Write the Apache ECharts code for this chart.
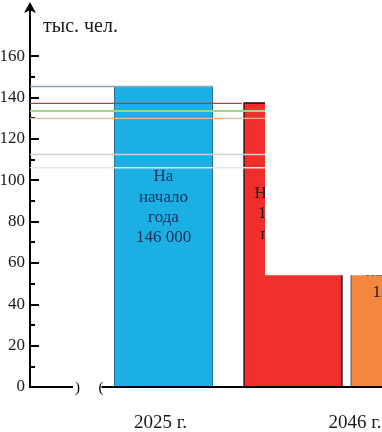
<!DOCTYPE html>
<html><head><meta charset="utf-8">
<script src="https://cdn.jsdelivr.net/npm/echarts@6/dist/echarts.min.js"></script>
<style>html,body{margin:0;padding:0;background:#fff}#c{width:382px;height:432px}</style>
</head><body><div id="c"></div>
<script>
// ---------------- data ----------------
const categories = ['2025 г.', '2046 г.'];
const yTickValues = [0, 20, 40, 60, 80, 100, 120, 140, 160];
const yMinorTickValues = [10, 30, 50, 70, 90, 110, 130, 150];
const unitLabel = 'тыс. чел.';
const startValue = [145.3];               // 2025, on the 1st of January
const scenarioValues = [137.3, 128.8];    // 2046 bars (red, orange)
const visibleLevel = [54];                // 2046 area is blank above this level
const guideValues = [145.3, 137.1, 133.5, 129.9, 112.4, 106.0];
const startLabel = ['На', 'начало', 'года', '146 000'];
const scenarioLabels = [
  ['Население', '1 вариант', 'прогноза'],
  ['Население', '2 вариант', 'прогноза', 'на 2046 г.', '129 000']
];

// ---------------- layout / style ----------------
const FONT = 'Liberation Serif';
const CW = 382;
const AXIS_X = 30;
const GRID = { left: 63.25, top: 8.5, bottom: 45, width: 389 };
const AXIS_OFFSET = GRID.left - AXIS_X;
const BAR_SPANS = [[-46, 52], [-111, -13], [-4, 94]];
const BAR_FILL = ['#1cafe3', '#ee2f2b', '#f2873d'];
const BAR_STROKE = ['#2e6f90', '#111111', '#5a5a5a'];
const BAR_STROKE_W = [1, 1.3, 1];
const RED_VISIBLE_W = 21;
const LABEL_DROP = 80.3;
const LINE_H = 20.3;
const LABEL_COLOR = ['#16315c', '#1a1a1a', '#1a1a1a'];
const GUIDE_COLORS = ['#8ea5b7', '#c8324b', '#a8d08c', '#f3b88b', '#cfcfcf', '#e6e6e6'];
const GUIDE_WIDTH = [1.6, 1.3, 2, 1.3, 1.3, 1.6];
const GUIDE_END = ['blueRight', 'redLeft', 'redRight', 'redRight', 'redRight', 'redRight'];

const barData = [[0, startValue[0]], [1, scenarioValues[0]], [1, scenarioValues[1]]];
const barLabels = [startLabel, scenarioLabels[0], scenarioLabels[1]];

const chart = echarts.init(document.getElementById('c'), null, { renderer: 'canvas' });

function renderBar(params, api) {
  const i = params.dataIndex;
  const cat = api.value(0), v = api.value(1);
  const top = api.coord([cat, v]);
  const base = api.coord([cat, 0]);
  const span = BAR_SPANS[i];
  const x0 = top[0] + span[0], x1 = top[0] + span[1];
  return {
    type: 'group',
    children: [
      { type: 'rect', shape: { x: x0, y: top[1], width: x1 - x0, height: base[1] - top[1] },
        style: { fill: BAR_FILL[i], stroke: BAR_STROKE[i], lineWidth: BAR_STROKE_W[i] } },
      { type: 'text', style: { text: barLabels[i].join('\n'), x: (x0 + x1) / 2, y: top[1] + LABEL_DROP,
        align: 'center', verticalAlign: 'top', lineHeight: LINE_H,
        fontFamily: FONT, fontSize: 17, fill: LABEL_COLOR[i] } }
    ]
  };
}

function renderGuide(params, api) {
  const i = params.dataIndex;
  const y = api.coord([0, api.value(1)])[1];
  const c0 = api.coord([0, 0])[0], c1 = api.coord([1, 0])[0];
  const ends = { blueRight: c0 + BAR_SPANS[0][1], redLeft: c1 + BAR_SPANS[1][0] - 2, redRight: c1 + BAR_SPANS[1][1] };
  const xs = params.coordSys.x - AXIS_OFFSET;
  return { type: 'line', shape: { x1: xs, y1: y, x2: ends[GUIDE_END[i]], y2: y },
    style: { stroke: GUIDE_COLORS[i], lineWidth: GUIDE_WIDTH[i] } };
}

function renderMask(params, api) {
  const p = api.coord([api.value(0), api.value(1)]);
  const x = p[0] + BAR_SPANS[1][0] + RED_VISIBLE_W;
  const cs = params.coordSys;
  return { type: 'rect', shape: { x: x, y: -10, width: cs.x + cs.width + 50 - x, height: p[1] + 10 },
    style: { fill: '#ffffff' } };
}

function renderBaseline(params, api) {
  const y = api.coord([0, 0])[1];
  const ax = params.coordSys.x - AXIS_OFFSET;
  const right = params.coordSys.x + params.coordSys.width;
  const st = { stroke: '#000', lineWidth: 2 };
  const ts = { fontFamily: FONT, fontSize: 15, fill: '#000', align: 'center', verticalAlign: 'middle' };
  return { type: 'group', children: [
    { type: 'line', shape: { x1: ax - 1, y1: y, x2: ax + 43, y2: y }, style: st },
    { type: 'text', style: Object.assign({ text: ')', x: ax + 47.5, y: y + 1.5 }, ts) },
    { type: 'text', style: Object.assign({ text: '(', x: ax + 71, y: y + 1.5 }, ts) },
    { type: 'line', shape: { x1: ax + 71.5, y1: y, x2: right, y2: y }, style: st }
  ] };
}

chart.setOption({
  animation: false,
  backgroundColor: '#ffffff',
  textStyle: { fontFamily: FONT },
  grid: { left: GRID.left, top: GRID.top, bottom: GRID.bottom, right: CW - GRID.left - GRID.width,
    containLabel: false, outerBoundsMode: 'none' },
  xAxis: {
    type: 'category', data: categories,
    axisLine: { show: false }, axisTick: { show: false },
    axisLabel: { interval: 0, margin: 26.5, fontFamily: FONT, fontSize: 19, color: '#1a1a1a' },
    splitLine: { show: false }
  },
  yAxis: [{
    type: 'value', min: 0, max: 183, position: 'left', offset: AXIS_OFFSET,
    name: unitLabel, nameLocation: 'end', nameGap: -18.5,
    nameTextStyle: { fontFamily: FONT, fontSize: 20, color: '#1a1a1a', align: 'left', verticalAlign: 'middle', padding: [0, 0, 0, 13] },
    axisLine: { show: true, lineStyle: { color: '#000', width: 2 }, symbol: ['none', 'arrow'], symbolSize: [9, 11], symbolOffset: [0, 6.5] },
    axisTick: { show: true, inside: true, length: 9, lineStyle: { color: '#000', width: 2 }, customValues: yTickValues },
    axisLabel: { customValues: yTickValues, margin: 5, fontFamily: FONT, fontSize: 17, color: '#1a1a1a' },
    splitLine: { show: false }
  }, {
    type: 'value', min: 0, max: 183, position: 'left', offset: AXIS_OFFSET,
    axisLine: { show: false },
    axisTick: { show: true, inside: true, length: 5, lineStyle: { color: '#000', width: 2 }, customValues: yMinorTickValues },
    axisLabel: { show: false },
    splitLine: { show: false }
  }],
  series: [
    { type: 'custom', name: 'bars', z: 2, renderItem: renderBar, data: barData },
    { type: 'custom', name: 'guides', z: 3, renderItem: renderGuide, data: guideValues.map(v => [0, v]) },
    { type: 'custom', name: 'mask', z: 4, renderItem: renderMask, data: [[1, visibleLevel[0]]] },
    { type: 'custom', name: 'baseline', z: 5, renderItem: renderBaseline, data: [[0, 0]] }
  ]
});
</script></body></html>
